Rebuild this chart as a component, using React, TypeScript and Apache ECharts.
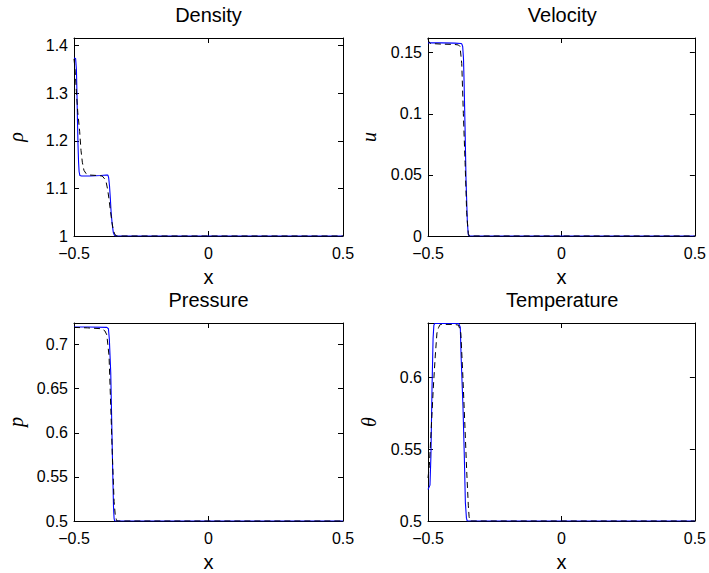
import React, { useEffect, useRef } from "react";
import * as echarts from "echarts";

// ---- data ----
const titles = ["Density", "Velocity", "Pressure", "Temperature"];
const yNames = ["ρ", "u", "p", "θ"];
const xTicks = { min: -0.5, max: 0.5, interval: 0.5 };
const yMins = [1, 0, 0.5, 0.5];
const yMaxs = [1.416, 0.162, 0.7245, 0.638];
const yIntervals = [0.1, 0.05, 0.05, 0.05];

const densityBlue: number[][] = [
  [-0.5, 1.374], [-0.494, 1.373], [-0.491, 1.35], [-0.489, 1.3], [-0.487, 1.24], [-0.485, 1.19],
  [-0.483, 1.155], [-0.481, 1.135], [-0.478, 1.127], [-0.472, 1.126], [-0.44, 1.126], [-0.4, 1.127],
  [-0.38, 1.128], [-0.374, 1.128], [-0.371, 1.122], [-0.368, 1.105], [-0.365, 1.08], [-0.362, 1.05],
  [-0.358, 1.025], [-0.354, 1.008], [-0.35, 1.002], [-0.346, 1.0], [0.5, 1.0],
];
const densityBlack: number[][] = [
  [-0.5, 1.372], [-0.496, 1.35], [-0.492, 1.31], [-0.486, 1.26], [-0.479, 1.22], [-0.474, 1.18],
  [-0.469, 1.155], [-0.463, 1.138], [-0.455, 1.131], [-0.44, 1.128], [-0.41, 1.127], [-0.395, 1.126],
  [-0.386, 1.12], [-0.38, 1.112], [-0.375, 1.098], [-0.37, 1.078], [-0.365, 1.055], [-0.36, 1.033],
  [-0.355, 1.016], [-0.35, 1.006], [-0.345, 1.001], [-0.34, 1.0], [0.5, 1.0],
];
const velocityBlue: number[][] = [
  [-0.5, 0.158], [-0.45, 0.158], [-0.4, 0.1578], [-0.376, 0.1575], [-0.373, 0.157], [-0.37, 0.155],
  [-0.367, 0.145], [-0.365, 0.128], [-0.361, 0.087], [-0.3575, 0.046], [-0.3525, 0.011],
  [-0.349, 0.001], [-0.346, 0], [0.5, 0],
];
const velocityBlack: number[][] = [
  [-0.5, 0.1615], [-0.497, 0.159], [-0.49, 0.1575], [-0.45, 0.157], [-0.4, 0.1567], [-0.386, 0.1563],
  [-0.38, 0.155], [-0.3735, 0.141], [-0.3675, 0.1], [-0.361, 0.06], [-0.355, 0.019], [-0.349, 0.002],
  [-0.345, 0], [0.5, 0],
];
const pressureBlue: number[][] = [
  [-0.5, 0.72], [-0.45, 0.72], [-0.378, 0.7195], [-0.372, 0.718], [-0.3686, 0.706], [-0.3634, 0.668],
  [-0.3597, 0.612], [-0.356, 0.555], [-0.353, 0.515], [-0.351, 0.503], [-0.349, 0.5], [0.5, 0.5],
];
const pressureBlack: number[][] = [
  [-0.5, 0.7195], [-0.45, 0.719], [-0.397, 0.718], [-0.385, 0.7155], [-0.378, 0.711], [-0.3697, 0.687],
  [-0.3634, 0.63], [-0.3574, 0.574], [-0.351, 0.522], [-0.347, 0.508], [-0.343, 0.502], [-0.34, 0.5],
  [0.5, 0.5],
];
const temperatureBlue: number[][] = [
  [-0.5, 0.522], [-0.4926, 0.525], [-0.489, 0.5456], [-0.485, 0.592], [-0.481, 0.627], [-0.478, 0.6365],
  [-0.475, 0.6377], [-0.385, 0.6377], [-0.379, 0.635], [-0.376, 0.615], [-0.369, 0.58],
  [-0.364, 0.5456], [-0.36, 0.513], [-0.356, 0.502], [-0.353, 0.5], [0.5, 0.5],
];
const temperatureBlack: number[][] = [
  [-0.5, 0.53], [-0.495, 0.5386], [-0.4866, 0.569], [-0.4804, 0.592], [-0.4728, 0.615], [-0.4665, 0.631],
  [-0.46, 0.635], [-0.454, 0.637], [-0.4, 0.637], [-0.386, 0.6365], [-0.381, 0.634], [-0.377, 0.631],
  [-0.37, 0.6035], [-0.3623, 0.569], [-0.3549, 0.5345], [-0.349, 0.511], [-0.346, 0.503],
  [-0.343, 0.5], [0.5, 0.5],
];
const blueSeries = [densityBlue, velocityBlue, pressureBlue, temperatureBlue];
const blackSeries = [densityBlack, velocityBlack, pressureBlack, temperatureBlack];

// ---- layout ----
const grids = [
  { left: 74, top: 38, width: 269, height: 198 },
  { left: 428, top: 38, width: 268.5, height: 198 },
  { left: 74, top: 323, width: 269, height: 199 },
  { left: 428, top: 323, width: 268.5, height: 199 },
];
const SANS = "'Liberation Sans', Arial, Helvetica, sans-serif";
const SERIF = "'Liberation Serif', 'Times New Roman', serif";

const fmtNum = (v: number) => {
  const r = Math.round(v * 10000) / 10000;
  return r < 0 ? "\u2212" + String(-r) : String(r);
};

export default function App() {
  const ref = useRef<HTMLDivElement>(null);
  useEffect(() => {
    document.body.style.margin = "0";
    if (!ref.current) return;
    const chart = echarts.init(ref.current, undefined, { renderer: "svg" });
    const axisLine = { show: true, onZero: false, lineStyle: { color: "#000", width: 1 } };
    const tick = { show: true, inside: true, length: 5, lineStyle: { color: "#000" } };
    const xAxes: any[] = [];
    const yAxes: any[] = [];
    for (let i = 0; i < 4; i++) {
      xAxes.push({
        type: "value", gridIndex: i, position: "bottom", ...xTicks,
        axisLine, splitLine: { show: false }, axisTick: tick,
        axisLabel: { color: "#000", fontSize: 16, lineHeight: 16, fontFamily: SANS, margin: 9, formatter: fmtNum },
        name: "x", nameLocation: "middle", nameGap: 31,
        nameTextStyle: { color: "#000", fontSize: 20, fontFamily: SANS },
      });
      yAxes.push({
        type: "value", gridIndex: i, position: "left",
        min: yMins[i], max: yMaxs[i], interval: yIntervals[i],
        axisLine, splitLine: { show: false }, axisTick: tick,
        axisLabel: { color: "#000", fontSize: 16, lineHeight: 16, fontFamily: SANS, margin: 6, showMaxLabel: false, formatter: fmtNum },
        name: yNames[i], nameLocation: "middle", nameGap: i % 2 === 0 ? 48 : 49,
        nameTextStyle: { color: "#000", fontSize: 20, fontFamily: SERIF, fontStyle: "italic" },
      });
    }
    for (let i = 0; i < 4; i++) {
      xAxes.push({
        type: "value", gridIndex: i, position: "top", ...xTicks,
        axisLine, splitLine: { show: false }, axisTick: tick,
        axisLabel: { show: false },
      });
      yAxes.push({
        type: "value", gridIndex: i, position: "right",
        min: yMins[i], max: yMaxs[i], interval: yIntervals[i],
        axisLine, splitLine: { show: false }, axisTick: tick,
        axisLabel: { show: false },
      });
    }
    const series: any[] = [];
    for (let i = 0; i < 4; i++) {
      series.push({
        type: "line", xAxisIndex: i, yAxisIndex: i, data: blueSeries[i],
        showSymbol: false, symbol: "none", silent: true,
        lineStyle: { color: "#0000ff", width: 1.1 }, z: 3,
      });
      series.push({
        type: "line", xAxisIndex: i, yAxisIndex: i, data: blackSeries[i],
        showSymbol: false, symbol: "none", silent: true,
        lineStyle: { color: "#000", width: 1, type: [6, 4] }, z: 4,
      });
    }
    const graphic = titles.map((t, i) => ({
      type: "text",
      x: grids[i].left + grids[i].width / 2,
      y: grids[i].top - 23,
      silent: true,
      style: {
        text: t, fill: "#000", font: `20px ${SANS}`,
        textAlign: "center", textVerticalAlign: "middle",
      },
    }));
    chart.setOption({
      animation: false,
      backgroundColor: "#fff",
      grid: grids.map((g) => ({ ...g, containLabel: false })),
      xAxis: xAxes,
      yAxis: yAxes,
      series,
      graphic,
    });
    return () => chart.dispose();
  }, []);
  return <div ref={ref} style={{ width: 709, height: 573 }} />;
}
